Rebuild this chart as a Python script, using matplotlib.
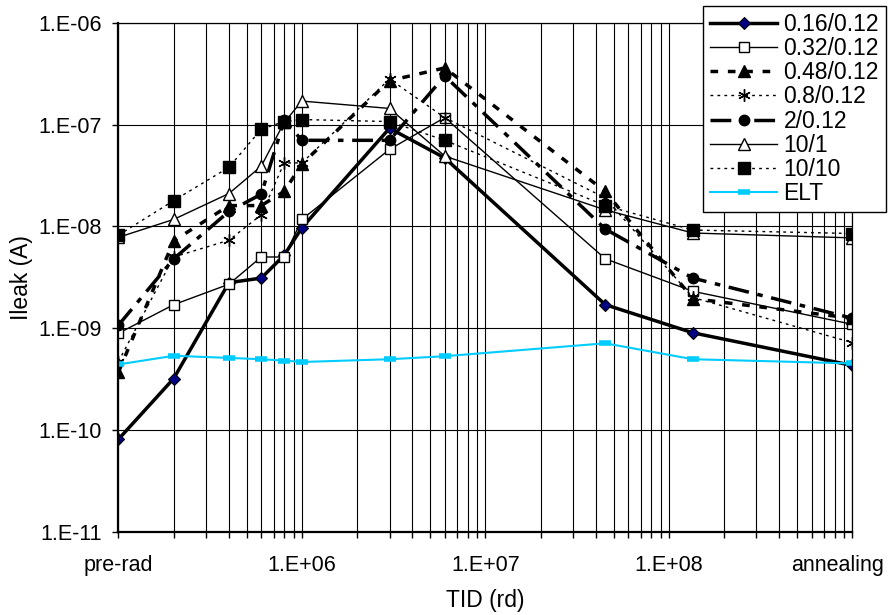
import numpy as np
import matplotlib
matplotlib.use('Agg')
import matplotlib.pyplot as plt
from matplotlib.ticker import LogLocator, FixedLocator, FixedFormatter, NullFormatter
from matplotlib.transforms import ScaledTranslation

plt.rcParams['font.family'] = ['Liberation Sans', 'DejaVu Sans']

# TID steps (pre-rad plotted at 1e5, annealing at 1e9)
tid = [1e5, 2e5, 4e5, 6e5, 8e5, 1e6, 3e6, 6e6, 4.5e7, 1.35e8, 1e9]

i_016 = [8.1e-11, 3.2e-10, 2.8e-9, 3.1e-9, 5.2e-9, 9.7e-9, 9.2e-8, 4.7e-8, 1.7e-9, 9.0e-10, 4.3e-10]
i_032 = [8.9e-10, 1.7e-9, 2.7e-9, 5.0e-9, 5.0e-9, 1.17e-8, 5.7e-8, 1.17e-7, 4.8e-9, 2.3e-9, 1.09e-9]
i_048 = [3.7e-10, 7.2e-9, 1.6e-8, 1.6e-8, 2.2e-8, 4.1e-8, 2.7e-7, 3.6e-7, 2.2e-8, 1.95e-9, 1.25e-9]
i_08 = [4.7e-10, 5.0e-9, 7.3e-9, 1.3e-8, 4.2e-8, 4.2e-8, 2.8e-7, 1.17e-7, 1.9e-8, 2.0e-9, 7.2e-10]
i_2 = [1.07e-9, 4.8e-9, 1.4e-8, 2.07e-8, 1.1e-7, 7.0e-8, 7.0e-8, 3.0e-7, 9.4e-9, 3.1e-9, 1.25e-9]
i_10_1 = [7.8e-9, 1.17e-8, 2.1e-8, 3.9e-8, 1.05e-7, 1.7e-7, 1.44e-7, 4.9e-8, 1.45e-8, 8.6e-9, 7.7e-9]
i_10_10 = [8.2e-9, 1.79e-8, 3.8e-8, 9.0e-8, 1.07e-7, 1.12e-7, 1.07e-7, 7.0e-8, 1.6e-8, 9.2e-9, 8.5e-9]
i_elt = [4.4e-10, 5.35e-10, 5.1e-10, 4.95e-10, 4.8e-10, 4.65e-10, 4.95e-10, 5.3e-10, 7.1e-10, 4.95e-10, 4.5e-10]

x_ticks = [1e5, 1e6, 1e7, 1e8, 1e9]
x_labels = ['pre-rad', '1.E+06', '1.E+07', '1.E+08', 'annealing']
y_ticks = [1e-11, 1e-10, 1e-9, 1e-8, 1e-7, 1e-6]
y_labels = ['1.E-11', '1.E-10', '1.E-09', '1.E-08', '1.E-07', '1.E-06']

fig = plt.figure(figsize=(8.9, 6.15), dpi=100)
ax = fig.add_axes([0.1331, 0.1354, 0.8247, 0.8276])
ax.set_xscale('log')
ax.set_yscale('log')

ax.plot(tid, i_016, color='black', lw=2.5, marker='D', ms=6, mfc='#000080', mec='black', mew=0.8, label='0.16/0.12')
ax.plot(tid, i_032, color='black', lw=1, marker='s', ms=7.5, mfc='white', mec='black', mew=1, label='0.32/0.12')
ax.plot(tid, i_048, color='black', lw=2.5, dashes=(2.2, 2.8), marker='^', ms=8, mfc='black', mec='black', label='0.48/0.12')
ax.plot(tid, i_08, color='black', lw=1, dashes=(2, 3), marker=(6, 2, 0), ms=9, mec='black', mew=1, label='0.8/0.12')
ax.plot(tid, i_2, color='black', lw=2.5, dashes=(6, 2.5, 1.6, 2.5), marker='o', ms=7.5, mfc='black', mec='black', label='2/0.12')
ax.plot(tid, i_10_1, color='black', lw=1, marker='^', ms=8, mfc='white', mec='black', mew=1, label='10/1')
ax.plot(tid, i_10_10, color='black', lw=1, dashes=(2, 3), marker='s', ms=8, mfc='black', mec='black', label='10/10')
ax.plot(tid, i_elt, color='#00CCFF', lw=1.5, marker='_', ms=9, mew=4, mec='#00CCFF', label='ELT')

ax.set_xlim(1e5, 1e9)
ax.set_ylim(1e-11, 1e-6)

ax.xaxis.set_major_locator(FixedLocator(x_ticks))
ax.xaxis.set_major_formatter(FixedFormatter(x_labels))
ax.xaxis.set_minor_locator(LogLocator(base=10, subs=np.arange(2, 10)))
ax.xaxis.set_minor_formatter(NullFormatter())
ax.yaxis.set_major_locator(FixedLocator(y_ticks))
ax.yaxis.set_major_formatter(FixedFormatter(y_labels))
ax.yaxis.set_minor_locator(FixedLocator([]))

ax.grid(True, axis='x', which='both', color='black', lw=0.8)
ax.grid(True, axis='y', which='major', color='black', lw=0.8)
ax.set_axisbelow(True)

ax.tick_params(axis='x', which='both', direction='out', length=4, width=1, labelsize=15.5, pad=13)
ax.tick_params(axis='y', which='major', direction='out', length=4, width=1, labelsize=15.5, pad=8)

for side in ['left', 'bottom']:
    ax.spines[side].set_linewidth(1.6)
for side in ['top', 'right']:
    ax.spines[side].set_linewidth(0.9)

# move "annealing" left so it stays inside the figure, as in the original
lab = ax.get_xticklabels()[-1]
lab.set_transform(lab.get_transform() + ScaledTranslation(-0.15, 0, fig.dpi_scale_trans))

ax.set_xlabel('TID (rd)', fontsize=16.5)
ax.set_ylabel('Ileak (A)', fontsize=16.5)
ax.xaxis.set_label_coords(0.5, -0.113)
ax.yaxis.set_label_coords(-0.117, 0.5)

leg = ax.legend(loc='upper right', bbox_to_anchor=(0.9955, 0.990), bbox_transform=fig.transFigure,
                fontsize=16.5, frameon=True, fancybox=False, framealpha=1, edgecolor='black',
                borderaxespad=0, borderpad=0.3, labelspacing=0.05, handlelength=2.9,
                handletextpad=0.3)
leg.get_frame().set_linewidth(1)

fig.savefig('out.png', dpi=100)
